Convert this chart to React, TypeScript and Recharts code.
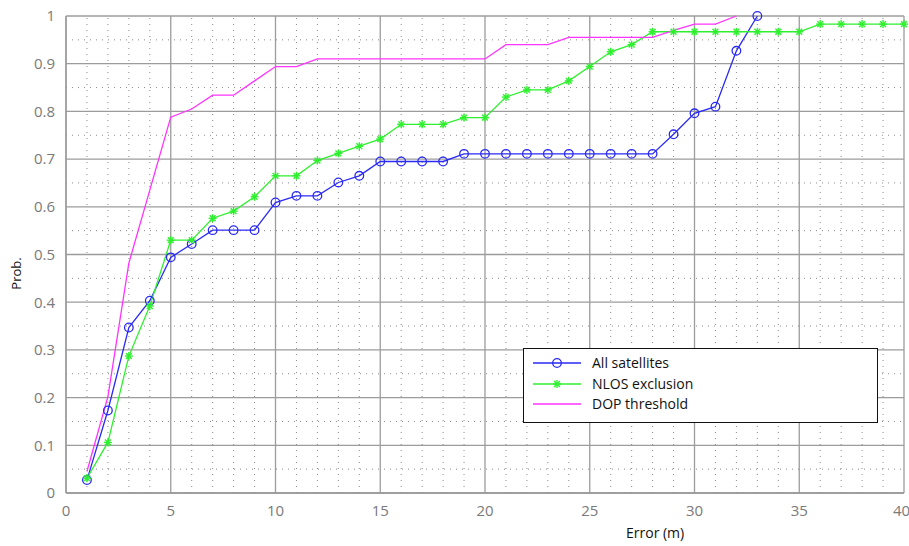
import React from "react";
import {
  CartesianGrid,
  Label,
  Line,
  LineChart,
  ReferenceLine,
  XAxis,
  YAxis,
} from "recharts";

// error in metres (x)
const ERRORS = [
  1, 2, 3, 4, 5, 6, 7, 8, 9, 10, 11, 12, 13, 14, 15, 16, 17, 18, 19, 20,
  21, 22, 23, 24, 25, 26, 27, 28, 29, 30, 31, 32, 33, 34, 35, 36, 37, 38, 39, 40,
];

const ALL_SAT = [
  0.027, 0.173, 0.347, 0.403, 0.494, 0.522, 0.551, 0.551, 0.551, 0.609,
  0.623, 0.623, 0.651, 0.665, 0.695, 0.695, 0.695, 0.695, 0.711, 0.711,
  0.711, 0.711, 0.711, 0.711, 0.711, 0.711, 0.711, 0.711, 0.752, 0.796,
  0.81, 0.927, 1.0,
];

const NLOS = [
  0.031, 0.106, 0.287, 0.392, 0.53, 0.53, 0.576, 0.591, 0.621, 0.665,
  0.665, 0.697, 0.712, 0.727, 0.742, 0.773, 0.773, 0.773, 0.787, 0.787,
  0.83, 0.845, 0.845, 0.864, 0.894, 0.925, 0.94, 0.967, 0.967, 0.967,
  0.967, 0.967, 0.967, 0.967, 0.967, 0.983, 0.983, 0.983, 0.983, 0.983,
];

const DOP = [
  0.045, 0.202, 0.482, 0.635, 0.788, 0.805, 0.834, 0.834, 0.864, 0.894,
  0.894, 0.91, 0.91, 0.91, 0.91, 0.91, 0.91, 0.91, 0.91, 0.91,
  0.94, 0.94, 0.94, 0.955, 0.955, 0.955, 0.955, 0.955, 0.97, 0.983,
  0.983, 1.0,
];

const X_TICKS = [0, 5, 10, 15, 20, 25, 30, 35, 40];
const Y_TICKS = [0, 0.1, 0.2, 0.3, 0.4, 0.5, 0.6, 0.7, 0.8, 0.9, 1];
const X_MINOR = [
  1, 2, 3, 4, 6, 7, 8, 9, 11, 12, 13, 14, 16, 17, 18, 19, 21, 22, 23, 24,
  26, 27, 28, 29, 31, 32, 33, 34, 36, 37, 38, 39,
];
const Y_MINOR = [0.05, 0.15, 0.25, 0.35, 0.45, 0.55, 0.65, 0.75, 0.85, 0.95];

const BLUE = "#2a2af5";
const GREEN = "#2ef02e";
const MAGENTA = "#ff33ff";

const data = ERRORS.map((e, i) => ({
  err: e,
  all: ALL_SAT[i],
  nlos: NLOS[i],
  dop: DOP[i],
}));

const SERIES = [
  { key: "all", name: "All satellites", color: BLUE, marker: "circle" },
  { key: "nlos", name: "NLOS exclusion", color: GREEN, marker: "star" },
  { key: "dop", name: "DOP threshold", color: MAGENTA, marker: "none" },
];

function Marker({ cx, cy, type, color }: { cx: number; cy: number; type: string; color: string }) {
  if (type === "circle") {
    return <circle cx={cx} cy={cy} r={4.3} fill="none" stroke={color} strokeWidth={1.3} />;
  }
  if (type === "star") {
    const s = 4;
    const d = 2.9;
    return (
      <g stroke={color} strokeWidth={1.4}>
        <line x1={cx - s} y1={cy} x2={cx + s} y2={cy} />
        <line x1={cx} y1={cy - s} x2={cx} y2={cy + s} />
        <line x1={cx - d} y1={cy - d} x2={cx + d} y2={cy + d} />
        <line x1={cx - d} y1={cy + d} x2={cx + d} y2={cy - d} />
      </g>
    );
  }
  return null;
}

function makeDot(type: string, color: string) {
  return (props: any) => {
    const { cx, cy, index, value } = props;
    if (cx == null || cy == null || value == null) return <g key={`d-${index}`} />;
    return (
      <g key={`d-${index}`}>
        <Marker cx={cx} cy={cy} type={type} color={color} />
      </g>
    );
  };
}

const tickStyle = { fontFamily: "Open Sans", fontSize: 15, fill: "#7a7a7a" };

export default function App() {
  return (
    <div style={{ position: "absolute", left: 0, top: 0, width: 909, height: 546, background: "#fff" }}>
      <LineChart
        width={909}
        height={546}
        data={data}
        margin={{ top: 16, right: 5, bottom: 0, left: 0 }}
      >
        <XAxis
          dataKey="err"
          type="number"
          domain={[0, 40]}
          ticks={X_TICKS}
          tickLine={false}
          axisLine={{ stroke: "#999", strokeWidth: 1.3 }}
          tick={tickStyle}
          tickMargin={6}
          height={53}
        >
          <Label
            content={(p: any) => {
              const vb = p.viewBox;
              return (
                <text
                  x={vb.x + vb.width * 0.703}
                  y={vb.y + 45}
                  textAnchor="middle"
                  style={{ fontFamily: "Open Sans", fontSize: 14, fill: "#111" }}
                >
                  Error (m)
                </text>
              );
            }}
          />
        </XAxis>
        <YAxis
          type="number"
          domain={[0, 1]}
          ticks={Y_TICKS}
          tickFormatter={(v: number) => String(Math.round(v * 10) / 10)}
          tickLine={false}
          axisLine={{ stroke: "#999", strokeWidth: 1.3 }}
          tick={tickStyle}
          tickMargin={5}
          width={66}
        >
          <Label
            content={(p: any) => {
              const vb = p.viewBox;
              const x = 16;
              const y = vb.y + vb.height / 2 + 19;
              return (
                <text
                  x={x}
                  y={y}
                  transform={`rotate(-90 ${x} ${y})`}
                  textAnchor="middle"
                  dominantBaseline="central"
                  style={{ fontFamily: "Open Sans", fontSize: 13, fill: "#111" }}
                >
                  Prob.
                </text>
              );
            }}
          />
        </YAxis>
        {X_MINOR.map((v) => (
          <ReferenceLine key={`xm-${v}`} x={v} stroke="#8a8a8a" strokeWidth={1} strokeDasharray="1 5" />
        ))}
        {Y_MINOR.map((v) => (
          <ReferenceLine key={`ym-${v}`} y={v} stroke="#8a8a8a" strokeWidth={1} strokeDasharray="1 5" />
        ))}
        <CartesianGrid stroke="#9c9c9c" strokeWidth={1.3} />
        {SERIES.map((s) => (
          <Line
            key={s.key}
            dataKey={s.key}
            name={s.name}
            type="linear"
            stroke={s.color}
            strokeWidth={1.3}
            dot={s.marker === "none" ? false : makeDot(s.marker, s.color)}
            activeDot={false}
            isAnimationActive={false}
          />
        ))}
      </LineChart>
      <div
        style={{
          position: "absolute",
          left: 523,
          top: 348,
          width: 353,
          height: 69,
          border: "1px solid #111",
          background: "#fff",
          boxSizing: "content-box",
          paddingTop: 4,
        }}
      >
        {SERIES.map((s) => (
          <div key={s.key} style={{ display: "flex", alignItems: "center", height: 20.5 }}>
            <svg width={68} height={20} style={{ flex: "none" }}>
              <line x1={9} y1={10} x2={57} y2={10} stroke={s.color} strokeWidth={1.3} />
              <Marker cx={33} cy={10} type={s.marker} color={s.color} />
            </svg>
            <span style={{ fontFamily: "Open Sans", fontSize: 14, color: "#111", lineHeight: "20px" }}>
              {s.name}
            </span>
          </div>
        ))}
      </div>
    </div>
  );
}
